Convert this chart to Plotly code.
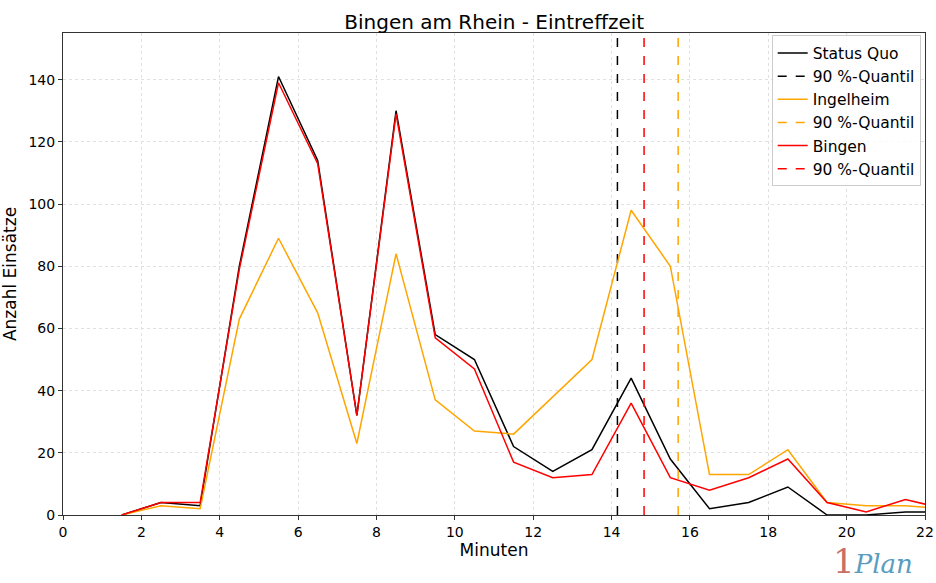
import plotly.graph_objects as go

minutes = [1.5, 2.5, 3.5, 4.5, 5.5, 6.5, 7.5, 8.5, 9.5, 10.5, 11.5, 12.5, 13.5, 14.5, 15.5, 16.5, 17.5, 18.5, 19.5, 20.5, 21.5, 22.5]
status_quo = [0, 4, 3, 80, 141, 114, 32, 130, 58, 50, 22, 14, 21, 44, 18, 2, 4, 9, 0, 0, 1, 1]
ingelheim = [0, 3, 2, 63, 89, 65, 23, 84, 37, 27, 26, 38, 50, 98, 80, 13, 13, 21, 4, 3, 3, 2]
bingen = [0, 4, 4, 79, 139, 113, 32, 129, 57, 47, 17, 12, 13, 36, 12, 8, 12, 18, 4, 1, 5, 2]
quantiles = {"Status Quo": 14.15, "Ingelheim": 15.7, "Bingen": 14.83}
colors = {"Status Quo": "black", "Ingelheim": "orange", "Bingen": "red"}
series = {"Status Quo": status_quo, "Ingelheim": ingelheim, "Bingen": bingen}
y_max = 155

fig = go.Figure()
for name, vals in series.items():
    fig.add_trace(go.Scatter(x=minutes, y=vals, mode="lines", name=name,
                             line=dict(color=colors[name], width=1.5)))
    q = quantiles[name]
    fig.add_trace(go.Scatter(x=[q, q], y=[0, y_max], mode="lines", name="90 %-Quantil",
                             line=dict(color=colors[name], width=1.5, dash="dash")))

axis_common = dict(showline=True, linecolor="#333333", linewidth=1, mirror=True,
                   ticks="outside", ticklen=4, tickcolor="#333333",
                   showgrid=True, gridcolor="#e0e0e0", griddash="dot", gridwidth=1,
                   zeroline=False, tickfont=dict(size=14, color="black"))

fig.update_layout(
    width=936, height=583,
    margin=dict(l=63, r=11, t=33, b=68, autoexpand=False),
    paper_bgcolor="white", plot_bgcolor="white",
    font=dict(family="DejaVu Sans", color="black"),
    title=dict(text="Bingen am Rhein - Eintreffzeit", x=0.528, xanchor="center",
               y=0.963, yanchor="middle", font=dict(size=20)),
    xaxis=dict(range=[0, 22], dtick=2, title=dict(text="Minuten", font=dict(size=17), standoff=4),
               **axis_common),
    yaxis=dict(range=[0, y_max], dtick=20, title=dict(text="Anzahl Einsätze", font=dict(size=17), standoff=8),
               **axis_common),
    legend=dict(x=0.995, y=0.995, xanchor="right", yanchor="top",
                bgcolor="rgba(255,255,255,0.8)", bordercolor="#cccccc", borderwidth=1,
                font=dict(size=15.5), tracegroupgap=0, itemwidth=30),
    showlegend=True,
)

fig.add_annotation(xref="paper", yref="paper", x=0.94, y=-0.095, xanchor="center", yanchor="middle",
                   text="<span style='color:#c87065;font-size:34px'>1</span><span style='color:#5a9cc0;font-size:26px'><i>Plan</i></span>",
                   showarrow=False, font=dict(family="DejaVu Serif"))

fig.write_html("out.html")
